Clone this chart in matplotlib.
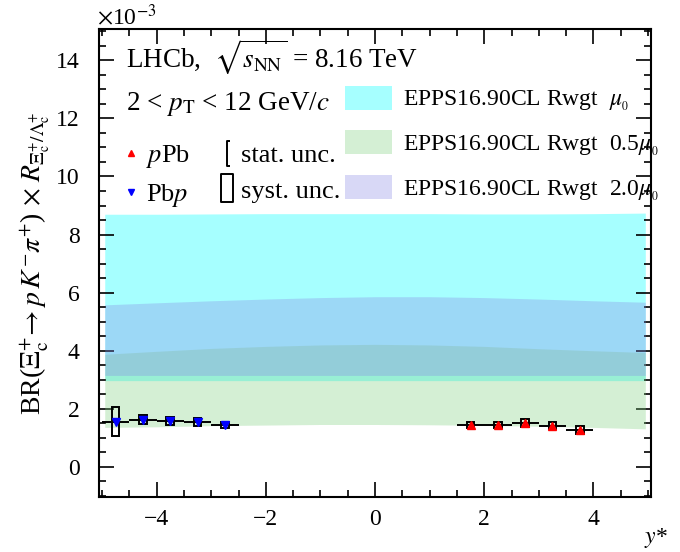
import numpy as np
import matplotlib
matplotlib.use("Agg")
import matplotlib.pyplot as plt
from matplotlib.lines import Line2D
from matplotlib.path import Path
from matplotlib.ticker import MultipleLocator

plt.rcParams['font.family'] = ['Liberation Serif', 'DejaVu Serif']
plt.rcParams['mathtext.fontset'] = 'stix'

# Measured points (values in units of 1e-3)
ppb_y = [1.75, 2.25, 2.75, 3.25, 3.75]
ppb_val = [1.43, 1.45, 1.51, 1.41, 1.28]
ppb_stat = [0.05, 0.05, 0.06, 0.05, 0.06]
ppb_syst = [0.10, 0.11, 0.15, 0.12, 0.14]

pbp_y = [-4.75, -4.25, -3.75, -3.25, -2.75]
pbp_val = [1.56, 1.62, 1.57, 1.55, 1.45]
pbp_stat = [0.06, 0.05, 0.05, 0.05, 0.05]
pbp_syst = [0.50, 0.15, 0.14, 0.15, 0.10]

# EPPS16 reweighted predictions (bands)
band_x = [-4.95, -4, -3, -2, -1, 0, 1, 2, 3, 4, 4.95]
mu0_lo = [2.97, 2.97, 2.97, 2.97, 2.97, 2.97, 2.97, 2.97, 2.97, 2.97, 2.97]
mu0_hi = [8.70, 8.70, 8.71, 8.72, 8.72, 8.72, 8.72, 8.71, 8.71, 8.72, 8.74]
half_lo = [1.36, 1.38, 1.42, 1.44, 1.46, 1.46, 1.45, 1.43, 1.40, 1.36, 1.31]
half_hi = [3.88, 3.98, 4.08, 4.15, 4.20, 4.22, 4.20, 4.15, 4.07, 4.00, 3.94]
two_lo = [3.15, 3.15, 3.15, 3.15, 3.15, 3.15, 3.15, 3.15, 3.15, 3.15, 3.15]
two_hi = [5.58, 5.65, 5.72, 5.78, 5.83, 5.86, 5.86, 5.83, 5.78, 5.72, 5.67]

fig = plt.figure(figsize=(6.8, 5.52), dpi=100)
ax = fig.add_axes([0.146, 0.100, 0.811, 0.847])

b1 = ax.fill_between(band_x, mu0_lo, mu0_hi, color='#a6ffff', lw=0, zorder=1)
b2 = ax.fill_between(band_x, half_lo, half_hi, color='#7ed07e', alpha=0.33, lw=0, zorder=2)
b3 = ax.fill_between(band_x, two_lo, two_hi, color='#8a8ae6', alpha=0.33, lw=0, zorder=3)


def draw_points(xs, vals, stat, syst, color, marker):
    for x, v, s in zip(xs, vals, syst):
        ax.add_patch(plt.Rectangle((x - 0.07, v - s), 0.14, 2 * s, fill=False,
                                   edgecolor='black', lw=1.4, zorder=5))
    ax.errorbar(xs, vals, xerr=0.25, yerr=stat, fmt='none', ecolor='black',
                elinewidth=1.4, capsize=0, zorder=6)
    ax.plot(xs, vals, ls='none', marker=marker, color=color, ms=6, zorder=7)


draw_points(ppb_y, ppb_val, ppb_stat, ppb_syst, 'red', '^')
draw_points(pbp_y, pbp_val, pbp_stat, pbp_syst, 'blue', 'v')

ax.set_xlim(-5.05, 5.05)
ax.set_ylim(-1.03, 15.07)
ax.xaxis.set_major_locator(MultipleLocator(2))
ax.xaxis.set_minor_locator(MultipleLocator(0.5))
ax.yaxis.set_major_locator(MultipleLocator(2))
ax.yaxis.set_minor_locator(MultipleLocator(0.5))
ax.tick_params(which='both', direction='in', top=True, right=True, labelsize=17, width=1.2)
ax.tick_params(which='major', length=11)
ax.tick_params(which='minor', length=5)
ax.tick_params(axis='y', which='major', pad=14)
ax.tick_params(axis='x', which='major', pad=9)
for sp in ax.spines.values():
    sp.set_linewidth(1.5)

ax.set_xlabel('$y$*', loc='right', fontsize=17)
ax.xaxis.set_label_coords(1.03, -0.062)
ax.set_ylabel(r'BR($\Xi_{\rm c}^{+}\!\rightarrow p\,K^{-}\pi^{+}$) $\times$ $R_{\Xi_{\rm c}^{+}/\Lambda_{\rm c}^{+}}$',
              fontsize=20, labelpad=3)
ax.text(-0.005, 1.0, r'$\times$10$^{-3}$', transform=ax.transAxes, fontsize=17, ha='left', va='bottom')

ax.text(0.048, 0.94, r'LHCb,  $\sqrt{s_{\rm NN}}$ = 8.16 TeV', transform=ax.transAxes,
        fontsize=19.5, va='center')
ax.text(0.048, 0.84, r'2 < $p_{\rm T}$ < 12 GeV/$c$', transform=ax.transAxes,
        fontsize=19.5, va='center')

# left legend: samples and uncertainties
syst_box = Path([(-0.4, -1), (0.4, -1), (0.4, 1), (-0.4, 1), (-0.4, -1)],
                [Path.MOVETO, Path.LINETO, Path.LINETO, Path.LINETO, Path.CLOSEPOLY])
stat_bar = Path([(0.25, 1), (0, 1), (0, -1), (0.25, -1)],
                [Path.MOVETO, Path.LINETO, Path.LINETO, Path.LINETO])
h_ppb = Line2D([], [], ls='none', marker='^', color='red', ms=5)
h_pbp = Line2D([], [], ls='none', marker='v', color='blue', ms=5)
h_stat = Line2D([], [], ls='none', marker=stat_bar, mfc='none', mec='black', mew=1.4, ms=18)
h_syst = Line2D([], [], ls='none', marker=syst_box, mfc='none', mec='black', mew=1.4, ms=20)
leg1 = ax.legend([h_ppb, h_pbp, h_stat, h_syst],
                 [r'$p$Pb', r'Pb$p$', 'stat. unc.', 'syst. unc.'],
                 ncol=2, loc='upper left', bbox_to_anchor=(0.015, 0.79), frameon=False,
                 fontsize=19, handlelength=0.6, handletextpad=0.25, columnspacing=1.1,
                 labelspacing=0.45, borderaxespad=0.2)
ax.add_artist(leg1)

# right legend: model bands
ax.legend([b1, b2, b3],
          [r'EPPS16.90CL Rwgt  $\mu_{_0}$', r'EPPS16.90CL Rwgt  0.5$\mu_{_0}$',
           r'EPPS16.90CL Rwgt  2.0$\mu_{_0}$'],
          loc='upper left', bbox_to_anchor=(0.42, 0.91), frameon=False, fontsize=17,
          handlelength=2.0, handleheight=1.2, handletextpad=0.45, labelspacing=0.72,
          borderaxespad=0.2)

fig.savefig('out.png', dpi=100)
